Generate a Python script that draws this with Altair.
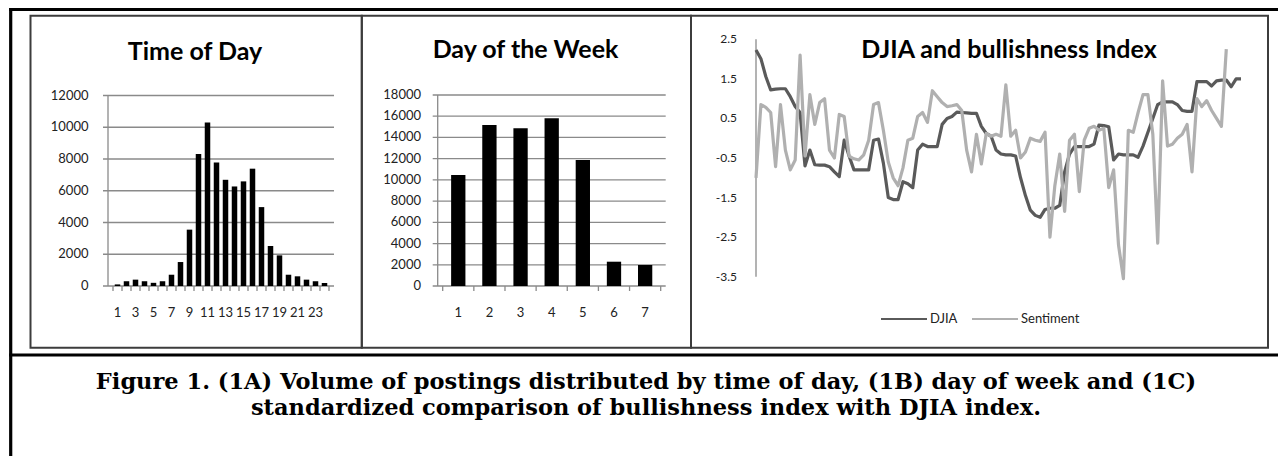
import altair as alt
import pandas as pd

# ---------------- data ----------------
hours = list(range(1, 25))
hour_posts = [100, 300, 400, 300, 200, 300, 710, 1510, 3550, 8310, 10300, 7780,
              6690, 6270, 6590, 7390, 4970, 2520, 1930, 710, 610, 400, 300, 190]
hour_labels = [1, 3, 5, 7, 9, 11, 13, 15, 17, 19, 21, 23]
hour_ticks = [0, 2000, 4000, 6000, 8000, 10000, 12000]

days = [1, 2, 3, 4, 5, 6, 7]
day_posts = [10460, 15170, 14860, 15800, 11870, 2290, 1980]
day_labels = [1, 2, 3, 4, 5, 6, 7]
day_ticks = [0, 2000, 4000, 6000, 8000, 10000, 12000, 14000, 16000, 18000]

djia = [2.23, 2.01, 1.56, 1.22, 1.24, 1.25, 1.25, 1.05, 0.80, 0.65,
        -0.70, -0.30, -0.67, -0.68, -0.68, -0.72, -0.85, -0.97, -0.05, -0.45,
        -0.80, -0.80, -0.80, -0.80, -0.05, -0.02, -0.63, -1.50, -1.55, -1.55,
        -1.10, -1.15, -1.25, -0.30, -0.15, -0.21, -0.21, -0.21, 0.35, 0.50,
        0.55, 0.66, 0.65, 0.64, 0.63, 0.63, 0.30, 0.12, 0.05, -0.30,
        -0.40, -0.42, -0.42, -0.45, -1.00, -1.45, -1.82, -1.95, -2.00, -1.80,
        -1.77, -1.77, -1.70, -0.85, -0.40, -0.21, -0.21, -0.21, -0.21, -0.15,
        0.33, 0.32, 0.29, -0.55, -0.40, -0.42, -0.42, -0.42, -0.48, -0.20,
        0.15, 0.50, 0.85, 0.92, 0.92, 0.92, 0.85, 0.70, 0.68, 0.68,
        1.43, 1.43, 1.43, 1.32, 1.45, 1.47, 1.47, 1.30, 1.50, 1.50]
sentiment = [-1.0, 0.85, 0.78, 0.65, -0.72, 0.85, -0.3, -0.8, -0.55, 2.1,
             -0.45, 1.1, 0.35, 0.9, 1.0, -0.3, -0.5, 0.6, 0.55, -0.45,
             -0.52, -0.55, -0.42, -0.05, 0.85, 0.9, 0.2, -0.6, -1.0, -1.2,
             -0.75, -0.05, 0.0, 0.55, 0.65, 0.4, 1.2, 1.05, 0.9, 0.8,
             0.82, 0.85, 0.7, -0.3, -0.85, 0.1, -0.65, 0.12, 0.05, 0.1,
             0.05, 1.35, 0.05, 0.2, -0.5, -0.35, 0.0, -0.05, -0.08, 0.15,
             -2.5, -1.2, -0.4, -1.85, -0.05, 0.1, -1.35, -0.05, 0.25, 0.3,
             0.2, 0.25, -1.25, -0.8, -2.7, -3.55, 0.2, 0.15, 0.65, 1.1,
             1.1, 0.1, -2.65, 1.45, -0.2, -0.15, 0.0, 0.1, 0.35, -0.85,
             1.0, 0.8, 0.95, 0.7, 0.5, 0.3, 2.25]
index_ticks = [2.5, 1.5, 0.5, -0.5, -1.5, -2.5, -3.5]
index_tick_labels = ["2.5", "1.5", "0.5", "-0.5", "-1.5", "-2.5", "-3.5"]
series_names = ["DJIA", "Sentiment"]
series_colors = ["#5a5a5a", "#b0b0b0"]

panel_titles = ["Time of Day", "Day of the Week", "DJIA and bullishness Index"]
caption_lines = [
    "Figure 1. (1A) Volume of postings distributed by time of day, (1B) day of week and (1C)",
    "standardized comparison of bullishness index with DJIA index.",
]

# ---------------- styles ----------------
FONT = "Lato"
SERIF = "DejaVu Serif"
GRID = "#8a8a8a"
LABEL = "#222222"
BOX = "#3c3c3c"
XLAB_Y = 305


def bar_panel(cats, vals, ticks, label_cats, title, x_rng, y_rng, bar_w,
              label_right, title_x, title_y):
    xs = alt.Scale(domain=[cats[0] - 0.5, cats[-1] + 0.5], range=x_rng, nice=False, zero=False)
    ys = alt.Scale(domain=[ticks[0], ticks[-1]], range=y_rng, nice=False, zero=False)

    def X(f):
        return alt.X(f, scale=xs, axis=None)

    def Y(f):
        return alt.Y(f, scale=ys, axis=None)

    df = pd.DataFrame({"cat": cats, "val": vals})
    grid_df = pd.DataFrame({"v": ticks, "label": [str(t) for t in ticks]})
    bounds_df = pd.DataFrame({"b": [c - 0.5 for c in cats] + [cats[-1] + 0.5]})
    xlab_df = pd.DataFrame({"c": label_cats, "label": [str(c) for c in label_cats]})
    axis_df = pd.DataFrame({"lo": [ticks[0]], "hi": [ticks[-1]]})
    title_df = pd.DataFrame({"t": [title]})

    grid = alt.Chart(grid_df).mark_rule(color=GRID, strokeWidth=1.3).encode(
        y=Y("v:Q"), x=alt.value(x_rng[0] - 5), x2=alt.value(x_rng[1]))
    axis_line = alt.Chart(axis_df).mark_rule(color=GRID, strokeWidth=1.3).encode(
        x=alt.value(x_rng[0]), y=Y("lo:Q"), y2="hi:Q")
    tick_marks = alt.Chart(bounds_df).mark_rule(color=GRID, strokeWidth=1.3).encode(
        x=X("b:Q"), y=alt.value(y_rng[0]), y2=alt.value(y_rng[0] + 5))
    bars = alt.Chart(df).mark_bar(color="black", width=bar_w, orient="vertical").encode(
        x=X("cat:Q"), y=Y("val:Q"))
    ylabels = alt.Chart(grid_df).mark_text(
        align="right", baseline="middle", font=FONT, fontSize=13, color=LABEL).encode(
        y=Y("v:Q"), x=alt.value(label_right), text="label:N")
    xlabels = alt.Chart(xlab_df).mark_text(
        align="center", baseline="middle", font=FONT, fontSize=13, color=LABEL).encode(
        x=X("c:Q"), y=alt.value(XLAB_Y), text="label:N")
    ttl = alt.Chart(title_df).mark_text(
        align="center", baseline="middle", font=FONT, fontSize=25, fontWeight="bold",
        color="black").encode(x=alt.value(title_x), y=alt.value(title_y), text="t:N")
    return alt.layer(grid, axis_line, tick_marks, bars, ylabels, xlabels, ttl)


panel1 = bar_panel(hours, hour_posts, hour_ticks, hour_labels, panel_titles[0],
                   [100, 326], [278, 87.5], 5.5, 80.5, 187, 43.5)
panel2 = bar_panel(days, day_posts, day_ticks, day_labels, panel_titles[1],
                   [429.7, 657.7], [278, 87], 14.3, 413, 517.5, 42)

# ---------------- panel 3: lines ----------------
xs3 = alt.Scale(domain=[0, len(djia) - 1], range=[748, 1233], nice=False, zero=False)
ys3 = alt.Scale(domain=[index_ticks[-1], index_ticks[0]], range=[268.7, 31.3], nice=False, zero=False)
line_df = pd.DataFrame({
    "i": list(range(len(djia))) + list(range(len(sentiment))),
    "v": djia + sentiment,
    "series": [series_names[0]] * len(djia) + [series_names[1]] * len(sentiment),
})
lab3_df = pd.DataFrame({"v": index_ticks, "label": index_tick_labels})
axis3_df = pd.DataFrame({"lo": [index_ticks[-1]], "hi": [index_ticks[0]]})
title3_df = pd.DataFrame({"t": [panel_titles[2]]})

lines = alt.Chart(line_df).mark_line(strokeWidth=3.2, strokeJoin="round").encode(
    x=alt.X("i:Q", scale=xs3, axis=None),
    y=alt.Y("v:Q", scale=ys3, axis=None),
    color=alt.Color("series:N",
                    scale=alt.Scale(domain=series_names, range=series_colors),
                    legend=alt.Legend(orient="none", legendX=872, legendY=287,
                                      direction="horizontal", title=None,
                                      symbolType="stroke", symbolSize=2116,
                                      symbolStrokeWidth=2, labelFont=FONT,
                                      labelFontSize=13, labelColor=LABEL,
                                      labelOffset=2, columnPadding=10, padding=0)),
)
axis3 = alt.Chart(axis3_df).mark_rule(color=GRID, strokeWidth=1.3).encode(
    x=alt.value(748), y=alt.Y("lo:Q", scale=ys3, axis=None), y2="hi:Q")
ylab3 = alt.Chart(lab3_df).mark_text(
    align="right", baseline="middle", font=FONT, fontSize=12, color=LABEL).encode(
    y=alt.Y("v:Q", scale=ys3, axis=None), x=alt.value(729), text="label:N")
title3 = alt.Chart(title3_df).mark_text(
    align="center", baseline="middle", font=FONT, fontSize=25, fontWeight="bold",
    color="black").encode(x=alt.value(1001), y=alt.value(42), text="t:N")
panel3 = alt.layer(axis3, lines, ylab3, title3)

# ---------------- frame ----------------
one = pd.DataFrame({"k": [0]})


def box(x0, x1, y0, y1):
    return alt.Chart(one).mark_rect(filled=False, stroke=BOX, strokeWidth=2).encode(
        x=alt.value(x0), x2=alt.value(x1), y=alt.value(y0), y2=alt.value(y1))


def thick(x0, x1, y0, y1):
    return alt.Chart(one).mark_rule(color="black", strokeWidth=3.2).encode(
        x=alt.value(x0), x2=alt.value(x1), y=alt.value(y0), y2=alt.value(y1))


frame = alt.layer(
    box(22.5, 353.8, 7.8, 339.7),
    box(353.8, 683, 7.8, 339.7),
    box(683, 1260, 7.8, 339.7),
    thick(1.2, 1270, 1.5, 1.5),
    thick(1.2, 1270, 347, 347),
    thick(2.7, 2.7, 0, 448),
)


def caption_line(text, y):
    return alt.Chart(pd.DataFrame({"t": [text]})).mark_text(
        align="center", baseline="middle", font=SERIF, fontSize=22.5, fontWeight="bold",
        color="black").encode(x=alt.value(638), y=alt.value(y), text="t:N")


caption = alt.layer(caption_line(caption_lines[0], 374), caption_line(caption_lines[1], 400))

chart = alt.layer(panel1, panel2, panel3, frame, caption).resolve_scale(
    x="independent", y="independent", color="independent"
).properties(
    width=1270, height=448, padding=0, autosize=alt.AutoSizeParams(type="none")
).configure_view(stroke="transparent")

chart.save("out.html", embed_options={"renderer": "svg", "actions": False})
